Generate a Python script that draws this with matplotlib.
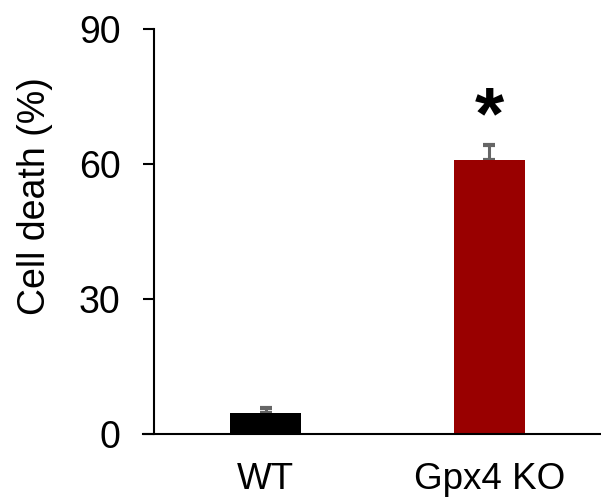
import matplotlib
matplotlib.use("Agg")
import matplotlib.pyplot as plt
from matplotlib.lines import Line2D

categories = ["WT", "Gpx4 KO"]
values = [4.7, 60.9]
errors = [1.1, 3.3]
colors = ["#000000", "#990000"]
yticks = [0, 30, 60, 90]
star_y = 70

plt.rcParams['font.family'] = ['Liberation Sans', 'DejaVu Sans']

fig = plt.figure(figsize=(6.01, 4.99), dpi=100)
ax = fig.add_axes([154/601, 1-434/499, 1-154/601, (434-29)/499])

x = list(range(len(categories)))
ax.bar(x, values, width=0.316, color=colors, zorder=2)
ax.errorbar(x, values, yerr=[[0]*len(errors), errors], fmt='none',
            ecolor='#666666', elinewidth=2.2, capsize=4.5, capthick=3, zorder=1)

ax.text(x[1], star_y, "*", ha='center', va='center', fontsize=54, fontweight='bold')

ax.set_xlim(-0.5, 1.5)
ax.set_ylim(0, 90)
ax.set_yticks(yticks)
ax.set_xticks(x)
ax.set_xticklabels(categories, fontsize=26.5)
ax.tick_params(axis='y', direction='out', length=8, width=1.5, labelsize=27, pad=16)
ax.tick_params(axis='x', length=0, pad=20)
ax.set_ylabel("Cell death (%)", fontsize=27, labelpad=19, y=0.588)

for s in ['top', 'right']:
    ax.spines[s].set_visible(False)
ax.spines['left'].set_linewidth(1.5)
ax.spines['bottom'].set_visible(False)
ax.add_line(Line2D([-0.025, 1.0], [0, 0], transform=ax.transAxes, color='black',
                   linewidth=1.5, clip_on=False))

fig.savefig("out.png", dpi=100)
